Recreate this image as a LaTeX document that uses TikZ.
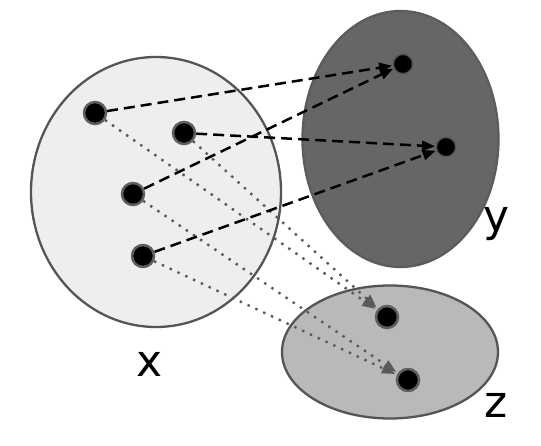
\documentclass[tikz,border=0pt]{standalone}
\usepackage{fontspec}
\setmainfont{DejaVu Sans}
\usetikzlibrary{arrows.meta,shapes.geometric}
\definecolor{bordergray}{HTML}{555555}
\definecolor{xfill}{HTML}{EEEEEE}
\definecolor{yfill}{HTML}{666666}
\definecolor{zfill}{HTML}{B9B9B9}
\definecolor{dotborder}{HTML}{5E5E5E}
\definecolor{dotline}{HTML}{5A5A5A}
\begin{document}
\begin{tikzpicture}[x=1pt,y=-1pt,
  setshape/.style={ellipse, draw=bordergray, line width=2.3pt, inner sep=0pt},
  dot/.style={circle, fill=black, draw=dotborder, line width=2.5pt, minimum size=22pt, inner sep=0pt},
  ydot/.style={circle, fill=black, draw=yfill!85!black, line width=1.5pt, minimum size=19.5pt, inner sep=0pt},
  lbl/.style={font=\fontsize{44}{44}\selectfont, inner sep=0pt, anchor=base},
  dasharrow/.style={draw=black, line width=2.5pt, dash pattern=on 11pt off 6pt, -{Triangle[length=13pt,width=10pt]}, shorten >=0.5pt},
  dotarrow/.style={draw=dotline, line width=2.4pt, dash pattern=on 2.4pt off 6.2pt, -{Triangle[length=13pt,width=10pt]}, shorten >=2pt}]
\useasboundingbox (0,0) rectangle (541,446);
\fill[white] (0,0) rectangle (541,446);
% sets
\node[setshape, fill=xfill, minimum width=250pt, minimum height=270pt] (X) at (156,192) {};
\node[setshape, fill=yfill, draw=yfill!90!black, minimum width=196pt, minimum height=256pt] (Y) at (400.5,139) {};
\node[setshape, fill=zfill, minimum width=216pt, minimum height=133pt] (Z) at (390,352) {};
% labels
\node[lbl] (lx) at (150,377) {x};
\node[lbl] (ly) at (496.5,232) {y};
\node[lbl] (lz) at (496.5,417) {z};
% elements
\node[dot] (a1) at (95,113) {};
\node[dot] (a2) at (184,133) {};
\node[dot] (a3) at (133,194) {};
\node[dot] (a4) at (143,256) {};
\node[ydot] (b1) at (403,64) {};
\node[ydot] (b2) at (446,147) {};
\node[dot] (c1) at (387,317) {};
\node[dot] (c2) at (408,380) {};
% mappings
\draw[dotarrow] (a1) -- (c1);
\draw[dotarrow] (a2) -- (c1);
\draw[dotarrow] (a3) -- (c2);
\draw[dotarrow] (a4) -- (c2);
\draw[dasharrow] (a1) -- (b1);
\draw[dasharrow] (a3) -- (b1);
\draw[dasharrow] (a2) -- (b2);
\draw[dasharrow] (a4) -- (b2);
\end{tikzpicture}
\end{document}
